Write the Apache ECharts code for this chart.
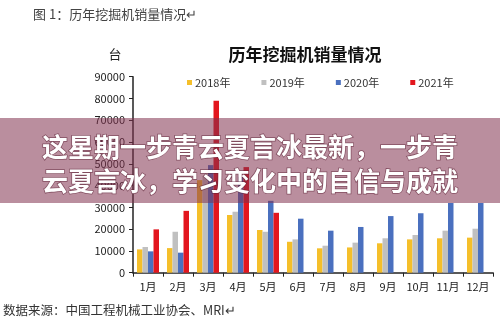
<!DOCTYPE html>
<html>
<head>
<meta charset="utf-8">
<script src="https://cdn.jsdelivr.net/npm/echarts@6/dist/echarts.min.js"></script>
<style>
html,body{margin:0;padding:0;background:#fff;}
#c{width:500px;height:327px;}
</style>
</head>
<body>
<div id="c"></div>
<script>
const categories = ['1月','2月','3月','4月','5月','6月','7月','8月','9月','10月','11月','12月'];
const seriesNames = ['2018年','2019年','2020年','2021年'];
const sales2018 = [10700, 11300, 42500, 26500, 19600, 14200, 11200, 11600, 13500, 15300, 15800, 16100];
const sales2019 = [11800, 18800, 44300, 28000, 18800, 15300, 12400, 13800, 15800, 17300, 19300, 20200];
const sales2020 = [9800, 9200, 49400, 44000, 33000, 24800, 19300, 21000, 26000, 27300, 32000, 32000];
const sales2021 = [19900, 28400, 78900, 48500, 27500];
const yTicks = [0, 10000, 20000, 30000, 40000, 50000, 60000, 70000, 80000, 90000];
const colors = ['#f5bf2a', '#c0c0c0', '#4a70bf', '#e3161e'];

const chart = echarts.init(document.getElementById('c'), null, {renderer: 'canvas'});
const allData = [sales2018, sales2019, sales2020, sales2021];
const font = '"Noto Sans CJK SC", "Noto Sans", sans-serif';

chart.setOption({
  animation: false,
  backgroundColor: '#ffffff',
  color: colors,
  title: {
    text: '历年挖掘机销量情况',
    left: 300, top: 41, textAlign: 'center',
    textStyle: {fontSize: 17, fontWeight: 'bold', color: '#111', fontFamily: font}
  },
  legend: {
    data: seriesNames,
    left: 182, top: 72,
    itemWidth: 5, itemHeight: 5, itemGap: 31,
    icon: 'rect',
    textStyle: {fontSize: 11, color: '#333', fontFamily: font, padding: [0,0,0,-2]}
  },
  grid: {left: 133, right: 7, top: 76.7, bottom: 54.3, containLabel: false},
  xAxis: {
    type: 'category',
    data: categories,
    axisLine: {lineStyle: {color: '#222', width: 1.5}},
    axisTick: {show: true, length: 4, interval: 0, lineStyle: {color: '#222'}, alignWithLabel: false},
    axisLabel: {fontSize: 11, color: '#222', margin: 9, interval: 0, fontFamily: font}
  },
  yAxis: {
    type: 'value',
    min: yTicks[0], max: yTicks[yTicks.length - 1], interval: 10000,
    name: '台',
    nameLocation: 'end',
    nameGap: 16,
    nameTextStyle: {fontSize: 13, color: '#222', fontFamily: font, align: 'center', padding: [0, 0, 0, -36]},
    axisLine: {show: true, lineStyle: {color: '#222', width: 1.5}},
    axisTick: {show: true, length: 4, lineStyle: {color: '#222'}},
    splitLine: {show: false},
    axisLabel: {fontSize: 11, color: '#222', margin: 8, fontFamily: font, formatter: v => String(v)}
  },
  series: seriesNames.map((n, i) => ({
    name: n,
    type: 'bar',
    data: allData[i],
    barWidth: 5.5,
    barGap: '0%',
    itemStyle: {color: colors[i]}
  })),
  graphic: [
    {
      type: 'text', left: 33, top: 8, z: 10,
      style: {text: '图 1：历年挖掘机销量情况↵', fill: '#444', font: '13px ' + font}
    },
    {
      type: 'text', left: 3, top: 304, z: 10,
      style: {text: '数据来源：中国工程机械工业协会、MRI↵', fill: '#333', font: '12.5px ' + font}
    },
    {
      type: 'rect', z: 100,
      shape: {x: 0, y: 118, width: 500, height: 85},
      style: {fill: 'rgba(130,50,78,0.55)'}
    },
    {
      type: 'text', z: 101, x: 250, y: 147,
      style: {
        text: '这星期一步青云夏言冰最新，一步青',
        fill: '#ffffff', font: 'bold 26px ' + font,
        align: 'center', verticalAlign: 'middle',
        stroke: 'rgba(90,30,50,0.6)', lineWidth: 1.5,
        shadowBlur: 3, shadowColor: 'rgba(0,0,0,0.5)'
      }
    },
    {
      type: 'text', z: 101, x: 250, y: 181,
      style: {
        text: '云夏言冰，学习变化中的自信与成就',
        fill: '#ffffff', font: 'bold 26px ' + font,
        align: 'center', verticalAlign: 'middle',
        stroke: 'rgba(90,30,50,0.6)', lineWidth: 1.5,
        shadowBlur: 3, shadowColor: 'rgba(0,0,0,0.5)'
      }
    }
  ]
});
</script>
</body>
</html>
